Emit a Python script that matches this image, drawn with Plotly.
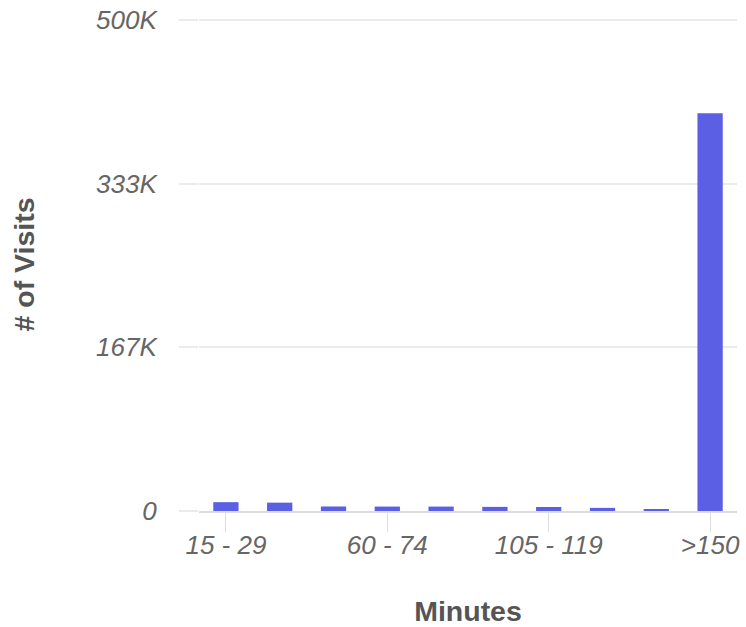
import plotly.graph_objects as go

categories = ["15 - 29", "30 - 44", "45 - 59", "60 - 74", "75 - 89",
              "90 - 104", "105 - 119", "120 - 134", "135 - 149", ">150"]
visits = [9000, 8500, 4600, 4500, 4500, 4200, 4100, 3200, 1800, 405000]

y_max = 500000
y_tickvals = [0, 166667, 333333, 500000]
y_ticktext = ["0", "167K", "333K", "500K"]
x_tickvals = ["15 - 29", "60 - 74", "105 - 119", ">150"]

fig = go.Figure(go.Bar(x=categories, y=visits, marker_color="#5b5fe3",
                       marker_line_width=0))

fig.update_layout(
    width=746, height=627,
    margin=dict(l=199, r=9, t=18, b=116, autoexpand=False),
    paper_bgcolor="white", plot_bgcolor="white",
    bargap=0.53, showlegend=False,
    font=dict(family="Liberation Sans, Arial, sans-serif"),
)
fig.update_xaxes(
    type="category", automargin=False,
    tickvals=x_tickvals, ticktext=x_tickvals,
    ticks="outside", ticklen=19, tickcolor="#dddddd", tickwidth=1,
    showline=True, linecolor="#dcdcdc", linewidth=2,
    showgrid=False,
    ticklabelstandoff=-9, ticklabeloverflow="allow",
    tickfont=dict(size=26, color="#666666", style="italic"),
    title=dict(text="<b>Minutes</b>", font=dict(size=28.5, color="#555555"), standoff=44),
)
fig.update_yaxes(
    range=[0, y_max * 1.00407], automargin=False,
    tickvals=y_tickvals, ticktext=y_ticktext,
    ticks="outside", ticklen=19, tickcolor="#ebebeb", tickwidth=2,
    showgrid=True, gridcolor="#ebebeb", gridwidth=2,
    zeroline=False, showline=False,
    ticklabelstandoff=17, ticklabeloverflow="allow",
    tickfont=dict(size=26, color="#666666", style="italic"),
    title=dict(text="<b># of Visits</b>", font=dict(size=28.5, color="#555555"), standoff=53),
)

fig.write_html("out.html",
               config={"displayModeBar": False},
               post_script="document.body.style.margin='0';document.body.style.overflow='hidden';")
